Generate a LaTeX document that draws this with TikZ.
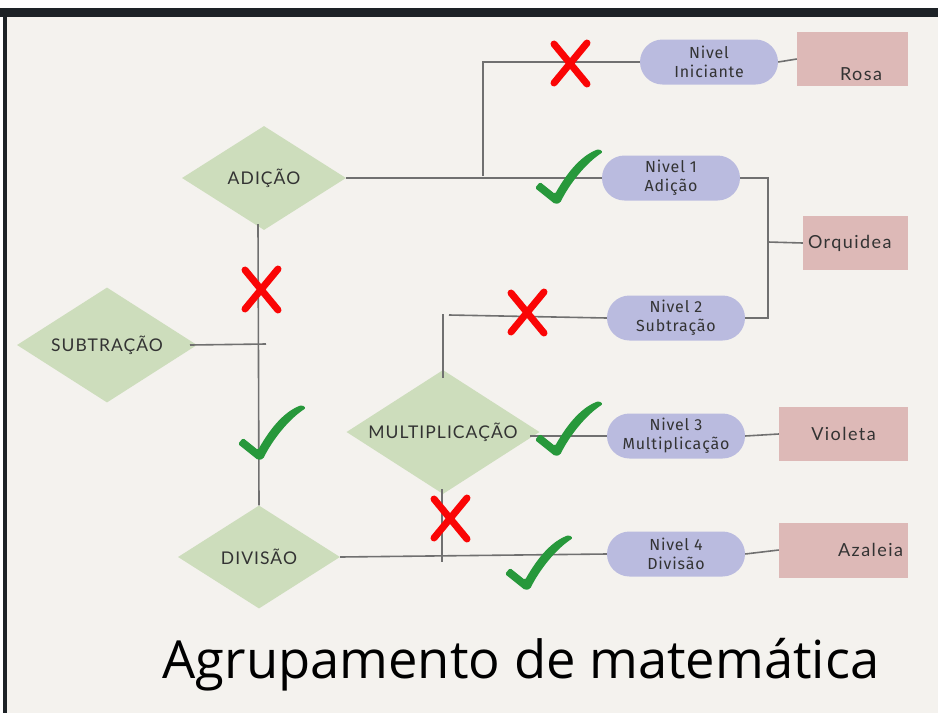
\documentclass[tikz,border=0pt]{standalone}
\usepackage{fontspec}
\setmainfont{Lato}
\newfontfamily\diafont[LetterSpace=6,Ligatures=NoCommon]{Lato}
\newfontfamily\pillfont[LetterSpace=5,Ligatures=NoCommon]{Fira Sans}
\newfontfamily\boxfont[LetterSpace=8,Ligatures=NoCommon]{Lato}
\newfontfamily\titlefont{Open Sans}
\usetikzlibrary{shapes.geometric}
\definecolor{bgc}{HTML}{F4F2EE}
\definecolor{diac}{HTML}{CDDDBC}
\definecolor{pillc}{HTML}{BABBDF}
\definecolor{boxc}{HTML}{DDB9B7}
\definecolor{linec}{HTML}{707070}
\definecolor{txtc}{HTML}{333333}
\definecolor{xred}{HTML}{FA0505}
\definecolor{chk}{HTML}{27983B}
\definecolor{barc}{HTML}{1D2226}
\tikzset{
  dia/.style={shape=diamond, fill=diac, inner sep=0pt, shape aspect=1.6, text=txtc, font=\diafont\fontsize{17.5}{19}\selectfont},
  pill/.style={rectangle, rounded corners=22.5, fill=pillc, minimum width=138, minimum height=45, inner sep=0pt, align=center, text=txtc, font=\pillfont\fontsize{16}{19}\selectfont},
  pbox/.style={rectangle, fill=boxc, inner sep=0pt, text=txtc, font=\boxfont\fontsize{18}{20}\selectfont},
  conn/.style={draw=linec, line width=1.6pt},
  redx/.pic={\draw[xred, line width=7pt, line cap=round] (-16,-20) -- (17,20) (17,-21) -- (-16,19);},
  greencheck/.pic={\fill[chk, rounded corners=1.5pt] (-21,-13) -- (-16,-19) -- (-1,-7) .. controls (12,-30) and (26,-46) .. (43,-52) -- (47,-49) .. controls (30,-38) and (14,-18) .. (4,2) -- (-1,3) -- cycle;}
}
\begin{document}
\begin{tikzpicture}[x=1pt, y=-1pt]
\useasboundingbox (0,0) rectangle (938,713);
\fill[white] (0,0) rectangle (938,713);
\fill[bgc] (6.5,16) rectangle (938,713);
\fill[barc] (0,8) rectangle (938,16.5);
\fill[barc] (3,16) rectangle (6.5,713);

% diamonds
\node[dia, minimum width=164, minimum height=104] (adic) at (264,178) {ADIÇÃO};
\node[dia, minimum width=180, minimum height=115] (sub) at (107,345) {SUBTRAÇÃO};
\node[dia, minimum width=193, minimum height=124] (mult) at (443,432) {MULTIPLICAÇÃO};
\node[dia, minimum width=162, minimum height=103] (div) at (259,557) {DIVISÃO};

% pills
\node[pill] (nini) at (709,62) {Nivel\\Iniciante};
\node[pill] (n1) at (671,178) {Nivel 1\\Adição};
\node[pill] (n2) at (676,318) {Nivel 2\\Subtração};
\node[pill] (n3) at (676,436) {Nivel 3\\Multiplicação};
\node[pill] (n4) at (676,554) {Nivel 4\\Divisão};

% pink boxes
\node[pbox, minimum width=111, minimum height=54] (rosa) at (852.5,59) {};
\node[txtc, font=\boxfont\fontsize{18}{20}\selectfont] (rosat) at (861,74) {Rosa};
\node[pbox, minimum width=105, minimum height=54, text width=95, align=left] (orq) at (855.5,243) {Orquidea};
\node[pbox, minimum width=129, minimum height=54] (viol) at (843.5,434) {Violeta};
\node[pbox, minimum width=129, minimum height=55, text width=119, align=right] (aza) at (843.5,550) {Azaleia};

% junction coordinates
\coordinate (j1) at (483,176);
\coordinate (k1) at (768,178);
\coordinate (k2) at (768,318);
\coordinate (k3) at (768,242);
\coordinate (v1) at (258,224);
\coordinate (s1) at (190,345);
\coordinate (s2) at (266,344);
\coordinate (m1) at (443,378);
\coordinate (m2) at (443,314);
\coordinate (m3) at (449,315);
\coordinate (m4) at (530,436);
\coordinate (d1) at (442,489);
\coordinate (d2) at (442,562);

% connectors
\draw[conn] (adic.east) -- (n1.west);
\draw[conn] (j1) |- (nini.west);
\draw[conn] (nini.east) -- (rosa.west);
\draw[conn] (n1.east) -- (k1) -- (k2) -- (n2.east);
\draw[conn] (k3) -- (orq.west);
\draw[conn] (v1) -- (div.north);
\draw[conn] (s1) -- (s2);
\draw[conn] (m1) -- (m2);
\draw[conn] (m3) -- (n2.west);
\draw[conn] (m4) -- (n3.west);
\draw[conn] (n3.east) -- (viol.west);
\draw[conn] (div.east) -- (n4.west);
\draw[conn] (d1) -- (d2);
\draw[conn] (n4.east) -- (aza.west);

% marks
\pic at (570,64) {redx};
\pic at (261,290) {redx};
\pic at (527,313) {redx};
\pic at (450,519) {redx};
\pic at (556,201) {greencheck};
\pic at (259,457) {greencheck};
\pic at (556,453) {greencheck};
\pic at (526,587) {greencheck};

% title
\node[anchor=base, text=black, font=\titlefont\fontsize{52.5}{60}\selectfont] (title) at (521,678) {Agrupamento de matemática};
\end{tikzpicture}
\end{document}
